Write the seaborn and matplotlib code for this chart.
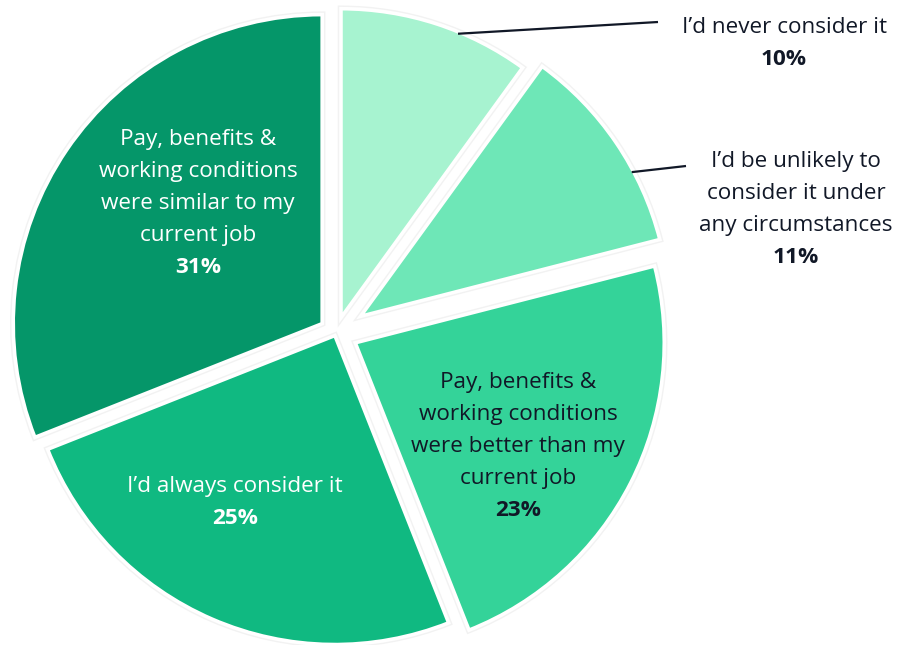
import numpy as np
import matplotlib
matplotlib.use("Agg")
import matplotlib.pyplot as plt
import matplotlib.patheffects as pe
import seaborn as sns

# ---- data ----
categories = [
    "I\u2019d never consider it",
    "I\u2019d be unlikely to\nconsider it under\nany circumstances",
    "Pay, benefits &\nworking conditions\nwere better than my\ncurrent job",
    "I\u2019d always consider it",
    "Pay, benefits &\nworking conditions\nwere similar to my\ncurrent job",
]
values = [10, 11, 23, 25, 31]
pct_labels = ["10%", "11%", "23%", "25%", "31%"]
colors = ["#A7F3D0", "#6EE7B7", "#34D399", "#10B981", "#059669"]

# ---- layout / style ----
explode = [0.052, 0.096, 0.070, 0.009, 0.054]
W, H = 909, 645
CX, CY, S = 336.0, 333.0, 309.0  # pixel centre and pixels per unit radius
DARK = "#111827"
text_colors = [DARK, DARK, DARK, "white", "white"]
# label anchor (centre x, first baseline y) in pixels
label_pos = [(784, 33), (796, 167), (518, 388), (235, 492), (198, 145)]
LINE = 32  # line spacing in pixels

sns.set_theme(style="white")
plt.rcParams["font.family"] = ["Open Sans", "DejaVu Sans"]

fig = plt.figure(figsize=(W / 100, H / 100), dpi=100)
ax = fig.add_axes([0, 0, 1, 1])

wedges, _ = ax.pie(
    values,
    colors=colors,
    startangle=90,
    counterclock=False,
    explode=explode,
    radius=1.0,
    wedgeprops=dict(
        edgecolor="white",
        linewidth=2.6,
        path_effects=[pe.Stroke(linewidth=4.6, foreground="#f2f2f2"), pe.Normal()],
    ),
)

ax.set_xlim(-CX / S, (W - CX) / S)
ax.set_ylim((CY - H) / S, CY / S)
ax.set_aspect("equal")
ax.axis("off")


def px(x, y):
    return (x - CX) / S, (CY - y) / S


FS = 16.2
for i, (cat, pct) in enumerate(zip(categories, pct_labels)):
    x0, y0 = label_pos[i]
    lines = cat.split("\n")
    for j, ln in enumerate(lines):
        ax.text(*px(x0, y0 + j * LINE), ln, ha="center", va="baseline",
                fontsize=FS, color=text_colors[i])
    ax.text(*px(x0, y0 + len(lines) * LINE), pct, ha="center", va="baseline",
            fontsize=FS, fontweight="bold", color=text_colors[i])

# leader lines for the two outside labels, starting on the wedge arc
leaders = {0: (67.6, (658, 22)), 1: (28.0, (686, 166))}
for i, (ang, end) in leaders.items():
    w = wedges[i]
    cx, cy = w.center
    r = w.r - 0.006
    start = (cx + r * np.cos(np.radians(ang)), cy + r * np.sin(np.radians(ang)))
    ex, ey = px(*end)
    ax.plot([start[0], ex], [start[1], ey], color=DARK, lw=1.6,
            solid_capstyle="butt", zorder=5)

fig.savefig("out.png", dpi=100)
